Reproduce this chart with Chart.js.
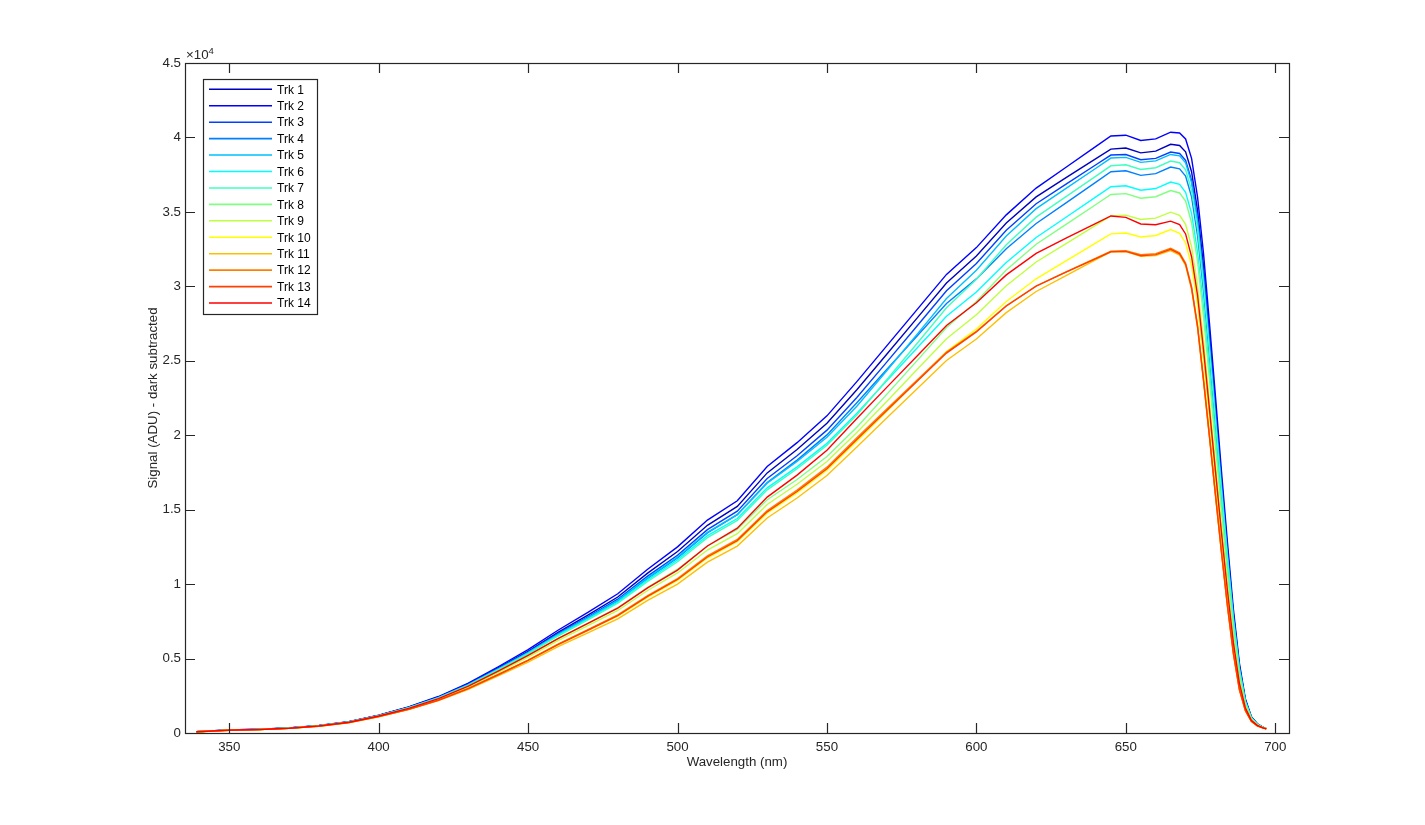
<!DOCTYPE html>
<html>
<head>
<meta charset="utf-8">
<title>Signal per track</title>
<script src="https://cdn.jsdelivr.net/npm/chart.js@4.4.1/dist/chart.umd.min.js"></script>
<style>
html, body { margin: 0; padding: 0; background: #fff; }
canvas { display: block; }
</style>
</head>
<body>
<canvas id="specChart" width="1425" height="825"></canvas>
<script>
// wavelength grid (nm)
var wavelength = [339, 345, 350, 360, 370, 380, 390, 400, 410, 420, 430, 440, 450, 460, 470, 480, 490, 500, 510, 520, 530, 540, 550, 560, 570, 580, 590, 600, 610, 620, 630, 640, 645, 650, 655, 660, 665, 668, 670, 672, 674, 676, 678, 680, 682, 684, 686, 688, 690, 692, 694, 696, 697];

// signal per track (ADU, dark subtracted)
var trk1 = [89, 149, 198, 248, 337, 495, 752, 1188, 1729, 2416, 3296, 4370, 5488, 6755, 7922, 9135, 10736, 12188, 13947, 15221, 17470, 19038, 20804, 23057, 25441, 27829, 30227, 32039, 34254, 36007, 37297, 38580, 39218, 39287, 38964, 39082, 39543, 39460, 39030, 37700, 35100, 31320, 26720, 21920, 17040, 12360, 7990, 4520, 2220, 1070, 605, 375, 298];
var trk2 = [90, 150, 200, 250, 340, 500, 760, 1200, 1750, 2450, 3350, 4450, 5600, 6900, 8100, 9350, 11000, 12500, 14300, 15600, 17900, 19500, 21300, 23600, 26000, 28400, 30800, 32600, 34800, 36600, 38000, 39400, 40100, 40150, 39800, 39900, 40350, 40300, 39900, 38600, 36000, 32200, 27500, 22600, 17600, 12800, 8300, 4700, 2300, 1100, 620, 380, 300];
var trk3 = [88, 147, 196, 245, 333, 490, 745, 1176, 1712, 2391, 3263, 4325, 5432, 6672, 7808, 8985, 10538, 11938, 13657, 14898, 17095, 18623, 20342, 22538, 24911, 27298, 29700, 31537, 33773, 35550, 36860, 38167, 38817, 38855, 38507, 38593, 39018, 38920, 38470, 37120, 34520, 30760, 26210, 21470, 16680, 12080, 7800, 4400, 2170, 1050, 600, 372, 297];
var trk4 = [88, 146, 195, 244, 332, 488, 741, 1170, 1701, 2374, 3236, 4285, 5376, 6596, 7711, 8864, 10384, 11750, 13442, 14664, 16826, 18330, 20022, 22184, 24411, 26634, 28850, 30501, 32521, 34221, 35606, 36997, 37694, 37761, 37452, 37566, 38010, 37890, 37400, 36010, 33410, 29670, 25240, 20630, 15980, 11540, 7420, 4170, 2065, 1006, 579, 365, 294];
var trk5 = [88, 146, 195, 244, 332, 488, 741, 1170, 1703, 2379, 3246, 4303, 5404, 6631, 7752, 8911, 10439, 11813, 13478, 14664, 16781, 18233, 19862, 21948, 24331, 26741, 29180, 31078, 33377, 35217, 36575, 37934, 38616, 38664, 38327, 38424, 38857, 38760, 38300, 36950, 34350, 30580, 26050, 21340, 16570, 11990, 7740, 4360, 2150, 1040, 594, 371, 296];
var trk6 = [87, 146, 194, 243, 330, 485, 737, 1164, 1692, 2362, 3219, 4263, 5348, 6555, 7655, 8789, 10285, 11625, 13252, 14403, 16468, 17876, 19453, 21476, 23650, 25824, 27994, 29617, 31605, 33277, 34637, 36004, 36692, 36757, 36457, 36568, 37001, 36850, 36320, 34900, 32300, 28580, 24260, 19780, 15290, 10990, 7040, 3940, 1960, 965, 561, 359, 292];
var trk7 = [86, 144, 192, 240, 326, 480, 730, 1152, 1677, 2342, 3196, 4236, 5320, 6514, 7598, 8714, 10186, 11500, 13120, 14274, 16334, 17745, 19330, 21358, 23725, 26125, 28561, 30474, 32792, 34649, 36024, 37402, 38095, 38163, 37850, 37965, 38413, 38300, 37830, 36450, 33850, 30100, 25620, 20970, 16260, 11750, 7570, 4260, 2100, 1020, 586, 368, 295];
var trk8 = [86, 143, 190, 238, 323, 475, 722, 1140, 1656, 2308, 3142, 4156, 5208, 6348, 7371, 8415, 9790, 11000, 12560, 13677, 15663, 17029, 18567, 20532, 22742, 24978, 27233, 28978, 31097, 32830, 34162, 35499, 36170, 36225, 35920, 36020, 36436, 36270, 35720, 34270, 31670, 27970, 23710, 19300, 14890, 10680, 6820, 3810, 1910, 943, 551, 355, 290];
var trk9 = [85, 141, 188, 235, 320, 470, 714, 1128, 1635, 2274, 3089, 4076, 5096, 6210, 7209, 8228, 9570, 10750, 12287, 13389, 15349, 16706, 18229, 20178, 22272, 24376, 26485, 28085, 30039, 31633, 32870, 34109, 34727, 34780, 34487, 34583, 34983, 34770, 34160, 32660, 30060, 26400, 22300, 18080, 13890, 9900, 6280, 3490, 1760, 884, 526, 346, 287];
var trk10 = [83, 138, 184, 230, 313, 460, 699, 1104, 1593, 2205, 2982, 3916, 4872, 5934, 6885, 7854, 9130, 10250, 11750, 12843, 14768, 16121, 17643, 19588, 21593, 23603, 25613, 27130, 28978, 30506, 31711, 32919, 33524, 33585, 33313, 33416, 33813, 33560, 32910, 31370, 28770, 25130, 21170, 17090, 13080, 9270, 5830, 3220, 1640, 837, 505, 339, 284];
var trk11 = [82, 137, 182, 228, 309, 455, 692, 1092, 1572, 2171, 2928, 3836, 4760, 5796, 6723, 7667, 8910, 10000, 11473, 12553, 14445, 15781, 17289, 19210, 21151, 23086, 25022, 26465, 28233, 29653, 30723, 31788, 32321, 32331, 32019, 32069, 32401, 32100, 31400, 29800, 27200, 23600, 19800, 15900, 12100, 8500, 5300, 2900, 1500, 780, 480, 330, 280];
var trk12 = [83, 138, 184, 230, 313, 460, 699, 1104, 1594, 2210, 2992, 3934, 4900, 5975, 6942, 7929, 9229, 10375, 11893, 13000, 14947, 16316, 17856, 19824, 21759, 23680, 25586, 26980, 28693, 30023, 30970, 31902, 32361, 32401, 32119, 32199, 32562, 32260, 31570, 29980, 27380, 23770, 19950, 16030, 12210, 8590, 5360, 2940, 1516, 786, 483, 331, 280];
var trk13 = [82, 137, 183, 229, 311, 458, 695, 1098, 1586, 2198, 2975, 3912, 4872, 5941, 6901, 7882, 9174, 10313, 11822, 12921, 14857, 16218, 17749, 19706, 21653, 23589, 25518, 26937, 28679, 30019, 30951, 31867, 32321, 32351, 32059, 32129, 32482, 32180, 31490, 29890, 27290, 23690, 19880, 15970, 12160, 8540, 5330, 2920, 1508, 783, 481, 330, 280];
var trk14 = [86, 143, 190, 238, 323, 475, 722, 1140, 1656, 2308, 3142, 4156, 5208, 6341, 7355, 8387, 9746, 10938, 12560, 13755, 15842, 17322, 18993, 21122, 23213, 25293, 27366, 28893, 30767, 32215, 33231, 34231, 34727, 34629, 34188, 34134, 34378, 34140, 33520, 31990, 29390, 25740, 21720, 17570, 13470, 9570, 6050, 3350, 1700, 860, 515, 342, 285];

var trackNames = ['Trk 1', 'Trk 2', 'Trk 3', 'Trk 4', 'Trk 5', 'Trk 6', 'Trk 7', 'Trk 8', 'Trk 9', 'Trk 10', 'Trk 11', 'Trk 12', 'Trk 13', 'Trk 14'];
var trackColors = ['rgb(0,0,191)', 'rgb(0,0,255)', 'rgb(0,64,255)', 'rgb(0,128,255)', 'rgb(0,191,255)', 'rgb(0,255,255)', 'rgb(64,255,191)',
  'rgb(128,255,128)', 'rgb(191,255,64)', 'rgb(255,255,0)', 'rgb(255,191,0)', 'rgb(255,128,0)', 'rgb(255,64,0)', 'rgb(255,0,0)'];

var xTicks = [350, 400, 450, 500, 550, 600, 650, 700];
var yTicks = [0, 5000, 10000, 15000, 20000, 25000, 30000, 35000, 40000, 45000];
var yTickLabels = ['0', '0.5', '1', '1.5', '2', '2.5', '3', '3.5', '4', '4.5'];

var tracks = [trk1, trk2, trk3, trk4, trk5, trk6, trk7, trk8, trk9, trk10, trk11, trk12, trk13, trk14];
var fontFam = '"Liberation Sans", Arial, Helvetica, sans-serif';
var axisColor = '#262626';

// box, inward ticks on all sides, exponent and legend (matlab look)
var axesBox = {
  id: 'axesBox',
  afterDatasetsDraw: function(chart) {
    var ctx = chart.ctx, a = chart.chartArea;
    var xs = chart.scales.x, ys = chart.scales.y;
    ctx.save();
    ctx.strokeStyle = axisColor;
    ctx.lineWidth = 1.2;
    ctx.beginPath();
    xTicks.forEach(function(v) {
      var px = Math.round(xs.getPixelForValue(v)) + 0.5;
      ctx.moveTo(px, a.bottom); ctx.lineTo(px, a.bottom - 10);
      ctx.moveTo(px, a.top); ctx.lineTo(px, a.top + 10);
    });
    yTicks.forEach(function(v) {
      var py = Math.round(ys.getPixelForValue(v)) + 0.5;
      ctx.moveTo(a.left, py); ctx.lineTo(a.left + 10, py);
      ctx.moveTo(a.right, py); ctx.lineTo(a.right - 10, py);
    });
    ctx.stroke();
    ctx.strokeRect(a.left + 0.5, a.top + 0.5, a.right - a.left, a.bottom - a.top);

    // x10^4
    ctx.fillStyle = axisColor;
    ctx.textBaseline = 'alphabetic';
    ctx.textAlign = 'left';
    ctx.font = '13.3px ' + fontFam;
    ctx.fillText('\u00d710', a.left + 1, a.top - 4);
    var w = ctx.measureText('\u00d710').width;
    ctx.font = '9.5px ' + fontFam;
    ctx.fillText('4', a.left + 1 + w, a.top - 9);

    // legend
    var lx = a.left + 18, ly = a.top + 16, bw = 114, bh = 235;
    ctx.fillStyle = '#fff';
    ctx.fillRect(lx, ly, bw, bh);
    ctx.strokeStyle = axisColor;
    ctx.lineWidth = 1.2;
    ctx.strokeRect(lx + 0.5, ly + 0.5, bw, bh);
    ctx.font = '12px ' + fontFam;
    ctx.textBaseline = 'middle';
    chart.data.datasets.forEach(function(ds, i) {
      var y = ly + 10.3 + i * 16.44;
      ctx.strokeStyle = ds.borderColor;
      ctx.lineWidth = 1.6;
      ctx.beginPath();
      ctx.moveTo(lx + 6, y); ctx.lineTo(lx + 69, y);
      ctx.stroke();
      ctx.fillStyle = '#000';
      ctx.fillText(ds.label, lx + 74, y + 1);
    });
    ctx.restore();
  }
};

var datasets = tracks.map(function(vals, i) {
  return {
    label: trackNames[i],
    data: wavelength.map(function(w, j) { return {x: w, y: vals[j]}; }),
    borderColor: trackColors[i],
    backgroundColor: trackColors[i],
    borderWidth: 1.4,
    pointRadius: 0,
    fill: false,
    tension: 0,
    order: tracks.length - i
  };
});

var ctx = document.getElementById('specChart').getContext('2d');
var specChart = new Chart(ctx, {
  type: 'line',
  data: { datasets: datasets },
  options: {
    responsive: false,
    animation: false,
    layout: { padding: { left: 0, right: 136, top: 63, bottom: 0 } },
    plugins: {
      legend: { display: false },
      tooltip: { enabled: false }
    },
    scales: {
      x: {
        type: 'linear',
        min: 335.2,
        max: 704.6,
        grid: { display: false, drawTicks: false },
        border: { display: false },
        afterFit: function(s) { s.height = 92; },
        afterBuildTicks: function(s) { s.ticks = xTicks.map(function(v) { return {value: v}; }); },
        ticks: { color: axisColor, font: { family: fontFam, size: 13.3 }, padding: 6, maxRotation: 0, autoSkip: false },
        title: { display: true, text: 'Wavelength (nm)', color: axisColor, font: { family: fontFam, size: 13.3 }, padding: { top: 0, bottom: 55 } }
      },
      y: {
        type: 'linear',
        min: 0,
        max: 45000,
        grid: { display: false, drawTicks: false },
        border: { display: false },
        afterFit: function(s) { s.width = 185; },
        afterBuildTicks: function(s) { s.ticks = yTicks.map(function(v) { return {value: v}; }); },
        ticks: {
          color: axisColor, font: { family: fontFam, size: 13.3 }, padding: 4, autoSkip: false,
          callback: function(v, i) { return yTickLabels[i]; }
        },
        title: { display: true, text: 'Signal (ADU) - dark subtracted', color: axisColor, font: { family: fontFam, size: 13.3 }, padding: { top: 145, bottom: 0 } }
      }
    }
  },
  plugins: [axesBox]
});
</script>
</body>
</html>
